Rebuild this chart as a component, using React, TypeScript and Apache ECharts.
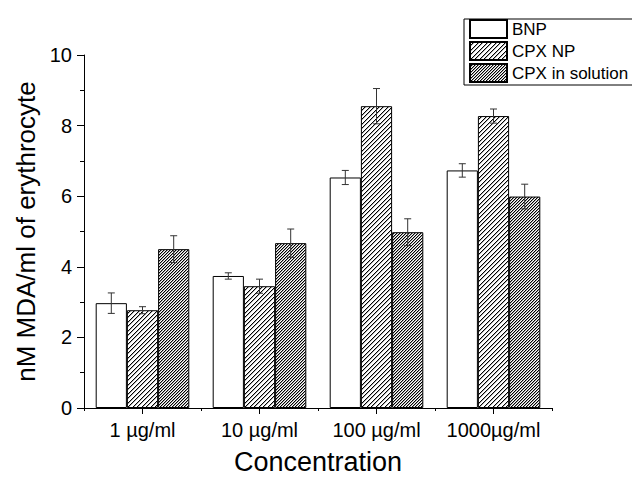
import React, { useEffect, useRef } from "react";
import * as echarts from "echarts";

const categories = ["1 µg/ml", "10 µg/ml", "100 µg/ml", "1000µg/ml"];
const seriesNames = ["BNP", "CPX NP", "CPX in solution"];
const bnp = [2.97, 3.74, 6.53, 6.73];
const bnpErr = [0.29, 0.09, 0.2, 0.19];
const cpxNp = [2.77, 3.45, 8.55, 8.27];
const cpxNpErr = [0.1, 0.2, 0.5, 0.2];
const cpxSol = [4.5, 4.67, 4.98, 5.99];
const cpxSolErr = [0.38, 0.4, 0.38, 0.35];
const yMin = 0;
const yMax = 10;
const yInterval = 2;

const FONT = "'Liberation Sans', Arial, Helvetica, sans-serif";

function hatch(size: number, darkSet: number[], greySet: number[], grey: string) {
  let rects = "";
  for (let y = 0; y < size; y++) {
    for (let x = 0; x < size; x++) {
      const k = (x + y) % size;
      if (darkSet.indexOf(k) >= 0) rects += `<rect x="${x}" y="${y}" width="1" height="1" fill="#000"/>`;
      else if (greySet.indexOf(k) >= 0) rects += `<rect x="${x}" y="${y}" width="1" height="1" fill="${grey}"/>`;
    }
  }
  const svg = `<svg xmlns="http://www.w3.org/2000/svg" width="${size}" height="${size}" shape-rendering="crispEdges"><rect width="${size}" height="${size}" fill="#fff"/>${rects}</svg>`;
  return {
    image: "data:image/svg+xml;charset=utf-8," + encodeURIComponent(svg),
    repeat: "repeat",
    imageWidth: size,
    imageHeight: size,
  };
}

export default function App() {
  const ref = useRef<HTMLDivElement>(null);
  useEffect(() => {
    if (!ref.current) return;
    const chart = echarts.init(ref.current, undefined, { renderer: "svg" });
    const values = [bnp, cpxNp, cpxSol];
    const errs = [bnpErr, cpxNpErr, cpxSolErr];
    const fills: any[] = [
      "#fff",
      hatch(9, [3, 8], [4, 0], "#b0b0b0"),
      hatch(3, [2], [0], "#a0a0a0"),
    ];
    const barSeries = seriesNames.map((name, i) => ({
      name,
      type: "bar",
      data: values[i],
      barGap: "0%",
      barCategoryGap: "20%",
      itemStyle: { color: fills[i], borderColor: "#000", borderWidth: 1 },
      emphasis: { disabled: true },
    }));
    const errData: number[][] = [];
    errs.forEach((arr, si) =>
      arr.forEach((e, ci) => errData.push([ci, values[si][ci], e, si]))
    );
    const errSeries = {
      name: "err",
      type: "custom",
      data: errData,
      z: 10,
      renderItem: (params: any, api: any) => {
        const ci = api.value(0);
        const v = api.value(1);
        const e = api.value(2);
        const si = api.value(3);
        const bandW = api.size([1, 0])[0];
        const barW = (bandW * 0.8) / 3;
        const c = api.coord([ci, v]);
        const x = c[0] + (si - 1) * barW;
        const top = api.coord([ci, v + e])[1];
        const bot = api.coord([ci, v - e])[1];
        const cap = 3.5;
        const st = { stroke: "#333", lineWidth: 1 };
        return {
          type: "group",
          children: [
            { type: "line", shape: { x1: x, y1: top, x2: x, y2: bot }, style: st },
            { type: "line", shape: { x1: x - cap, y1: top, x2: x + cap, y2: top }, style: st },
            { type: "line", shape: { x1: x - cap, y1: bot, x2: x + cap, y2: bot }, style: st },
          ],
        };
      },
    };
    // longer ticks at category centres (the axis itself draws the short boundary ticks)
    const centerTicks = {
      name: "ticks",
      type: "custom",
      data: categories.map((_, i) => [i, 0]),
      z: 10,
      clip: false,
      renderItem: (params: any, api: any) => {
        const ci = api.value(0);
        const c = api.coord([ci, 0]);
        return {
          type: "line",
          shape: { x1: c[0], y1: c[1], x2: c[0], y2: c[1] + 6 },
          style: { stroke: "#000", lineWidth: 1 },
        };
      },
    };
    chart.setOption({
      animation: false,
      backgroundColor: "#fff",
      textStyle: { fontFamily: FONT },
      grid: { left: 84, right: 80, top: 55, bottom: 74, outerBoundsMode: "none" },
      legend: {
        data: seriesNames,
        orient: "vertical",
        left: 464,
        top: 19,
        itemWidth: 37,
        itemHeight: 18,
        itemGap: 2,
        padding: [0, 20, 2, 5],
        borderColor: "#000",
        borderWidth: 1,
        borderRadius: 0,
        backgroundColor: "#fff",
        icon: "rect",
        selectedMode: false,
        textStyle: { fontSize: 17, color: "#000", fontFamily: FONT, lineHeight: 18 },
      },
      xAxis: {
        type: "category",
        data: categories,
        name: "Concentration",
        nameLocation: "middle",
        nameGap: 40,
        nameTextStyle: { fontSize: 27, color: "#000", fontFamily: FONT },
        axisLine: { show: true, lineStyle: { color: "#000", width: 1 } },
        axisTick: { show: true, interval: 0, length: 3, lineStyle: { color: "#000", width: 1 } },
        axisLabel: { show: true, interval: 0, fontSize: 20, color: "#000", margin: 12, fontFamily: FONT },
      },
      yAxis: {
        type: "value",
        min: yMin,
        max: yMax,
        interval: yInterval,
        name: "nM MDA/ml of erythrocyte",
        nameLocation: "middle",
        nameGap: 35,
        nameTextStyle: { fontSize: 26, color: "#000", fontFamily: FONT },
        axisLine: { show: true, lineStyle: { color: "#000", width: 1 } },
        axisTick: { show: true, length: 7, lineStyle: { color: "#000" } },
        minorTick: { show: true, splitNumber: 2, length: 4, lineStyle: { color: "#000" } },
        splitLine: { show: false },
        axisLabel: { fontSize: 20, color: "#000", margin: 12, fontFamily: FONT },
      },
      series: [...barSeries, errSeries, centerTicks],
    });
    return () => chart.dispose();
  }, []);
  return <div ref={ref} style={{ width: 632, height: 482, position: "absolute", left: 0, top: 0 }} />;
}
